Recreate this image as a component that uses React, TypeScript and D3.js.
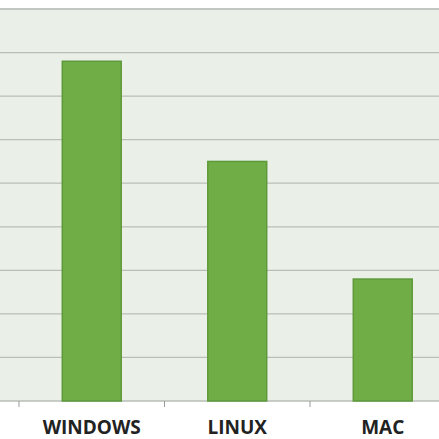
import React from "react";
import * as d3 from "d3";

const categories = ["WINDOWS", "LINUX", "MAC"];
const values = [78, 55, 28];
const yTicks = [0, 10, 20, 30, 40, 50, 60, 70, 80, 90];

const W = 439;
const H = 439;

export default function App() {
  const x = d3
    .scaleBand<string>()
    .domain(categories)
    .range([19, 455.5])
    .paddingInner(0.595)
    .paddingOuter(0.2975);
  const y = d3.scaleLinear().domain([0, 90]).range([401, 9]);
  const step = x.step();
  const boundaries = categories.map((c) => (x(c) as number) - step * 0.2975);

  return (
    <svg
      width={W}
      height={H}
      style={{ position: "fixed", left: 0, top: 0, background: "#ffffff" }}
    >
      <rect x={0} y={y(90)} width={W} height={y(0) - y(90)} fill="#eaf0e7" />
      {yTicks.map((t) => (
        <line
          key={t}
          x1={0}
          x2={W}
          y1={y(t)}
          y2={y(t)}
          stroke={t === 90 ? "#c4c6c3" : "#b9beb7"}
          strokeWidth={t === 90 ? 2 : 1.3}
        />
      ))}
      {boundaries.map((b, i) => (
        <line key={i} x1={b} x2={b} y1={y(0)} y2={y(0) + 6} stroke="#9a9a9a" strokeWidth={1} />
      ))}
      {categories.map((c, i) => (
        <rect
          key={c}
          x={x(c)}
          y={y(values[i])}
          width={x.bandwidth()}
          height={y(0) - y(values[i])}
          fill="#70ad47"
          stroke="#5e9a3b"
          strokeWidth={1.5}
        />
      ))}
      {categories.map((c) => (
        <text
          key={c}
          x={(x(c) as number) + x.bandwidth() / 2}
          y={433.5}
          textAnchor="middle"
          fontFamily="'Open Sans', sans-serif"
          fontWeight={700}
          fontSize={19}
          fill="#222222"
        >
          {c}
        </text>
      ))}
    </svg>
  );
}
